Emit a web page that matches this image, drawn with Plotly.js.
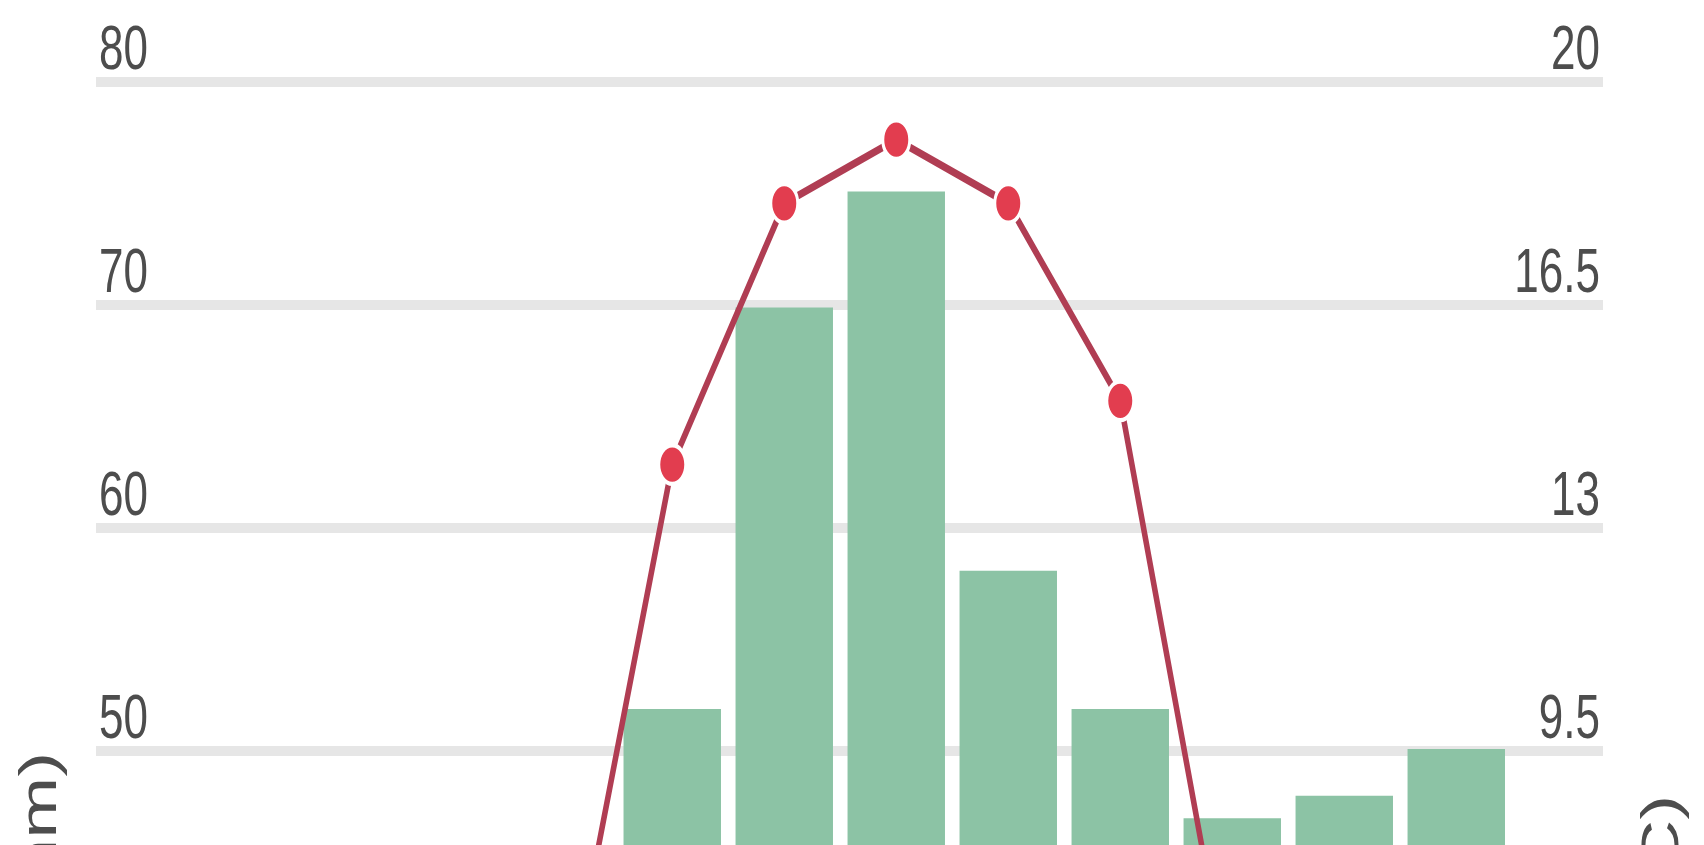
<!DOCTYPE html>
<html><head><meta charset="utf-8">
<script src="https://cdn.plot.ly/plotly-3.0.1.min.js"></script>
<style>
html,body{margin:0;padding:0;overflow:hidden;background:#fff;width:1704px;height:845px}
#wrap{width:1704px;height:845px;overflow:hidden;position:relative}
#chart{width:1704px;height:1405px;transform:scaleY(1.43);transform-origin:0 0}
</style></head><body><div id="wrap"><div id="chart"></div></div>
<script>
const months = ['Jan','Feb','Mar','Apr','May','Jun','Jul','Aug','Sep','Oct','Nov','Dec'];
const precipitation = [32, 30, 36, 42, 51.9, 69.9, 75.1, 58.1, 51.9, 47.0, 48.0, 50.1];
const temperature = [-4, -2, 1, 4.9, 14.0, 18.1, 19.1, 18.1, 15.0, 5.4, -0.5, -3];
const precipTitle = 'Rainfall (mm)';
const tempTitle = 'Temp. (°C)';

const font = 'Liberation Sans, Arial, sans-serif';
const txt = '#4d4d4d';

const traces = [
  {type:'bar', x: months, y: precipitation, marker:{color:'#8cc3a5'}, hoverinfo:'x+y'},
  {type:'scatter', mode:'lines+markers', x: months, y: temperature, yaxis:'y2',
   line:{color:'#b03d53', width:5.5},
   marker:{color:'#e23d4f', size:27, line:{color:'#ffffff', width:3}}}
];

const layout = {
  width:1704, height:1405,
  margin:{l:96, r:101, t:56, b:100},
  paper_bgcolor:'#fff', plot_bgcolor:'#fff',
  showlegend:false, bargap:0.13,
  font:{family:font, color:txt},
  xaxis:{type:'category', range:[-1.145, 12.31], showgrid:false, zeroline:false, showline:false,
         ticks:'', showticklabels:false},
  yaxis:{range:[0, 80.1], tick0:0, dtick:10, showgrid:true, gridcolor:'#e6e6e6', gridwidth:7,
         zeroline:false, showline:false, ticks:'', ticklabelposition:'inside top', ticklabelshift:6,
         ticklabeloverflow:'allow',
         tickfont:{size:44, color:txt, family:font},
         title:{text:precipTitle, font:{size:52, color:txt, family:font}, standoff:25}},
  yaxis2:{overlaying:'y', side:'right', range:[-8, 20.035], tick0:-8, dtick:3.5,
          showgrid:false, zeroline:false, showline:false, ticks:'', ticklabelposition:'inside top', ticklabelshift:6,
          ticklabeloverflow:'allow',
          tickfont:{size:44, color:txt, family:font},
          title:{text:tempTitle, font:{size:52, color:txt, family:font}, standoff:42}}
};
Plotly.newPlot('chart', traces, layout, {displayModeBar:false, staticPlot:true});
</script></body></html>
